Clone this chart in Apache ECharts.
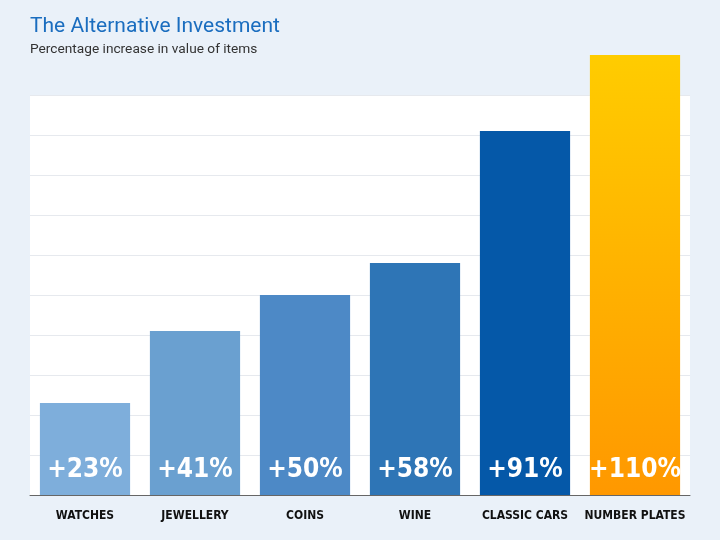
<!DOCTYPE html>
<html><head><meta charset="utf-8">
<script src="https://cdn.jsdelivr.net/npm/echarts@6/dist/echarts.min.js"></script>
<style>html,body{margin:0;padding:0;background:#eaf1f9}#c{width:720px;height:540px}</style>
</head><body><div id="c"></div>
<script>
const categories = ['WATCHES','JEWELLERY','COINS','WINE','CLASSIC CARS','NUMBER PLATES'];
const values = [23, 41, 50, 58, 91, 110];
const barColors = ['#7eaedb','#6aa0d0','#4d89c6','#2e75b6','#0558a8', null];

const condensed = '"DejaVu Sans Condensed", "Liberation Sans Narrow", sans-serif';
const chart = echarts.init(document.getElementById('c'));
const data = values.map((v,i)=>({
  value: v,
  itemStyle: { color: barColors[i] || new echarts.graphic.LinearGradient(0,0,0,1,[{offset:0,color:'#ffcc00'},{offset:1,color:'#ff9800'}]) }
}));
const areaColors = Array(10).fill('#ffffff').concat(['rgba(0,0,0,0)']);
const lineColors = Array(11).fill('#e6e9ee').concat(['rgba(0,0,0,0)']);
chart.setOption({
  backgroundColor: '#eaf1f9',
  animation: false,
  title: [
    { text: 'The Alternative Investment', left: 25, top: 11,
      textStyle: { fontFamily: 'Roboto', fontWeight: 'normal', fontSize: 21, color: '#1a6dbf' } },
    { text: 'Percentage increase in value of items', left: 25, top: 38,
      textStyle: { fontFamily: 'Roboto', fontWeight: 'normal', fontSize: 13.7, color: '#333333' } }
  ],
  grid: { left: 30, right: 30, top: 55, bottom: 45 },
  xAxis: {
    type: 'category', data: categories,
    axisLine: { show: true, lineStyle: { color: '#666', width: 1 } },
    axisTick: { show: false },
    axisLabel: { interval: 0, margin: 15, color: '#111', fontFamily: condensed, fontWeight: 'bold', fontSize: 12 }
  },
  yAxis: {
    type: 'value', min: 0, max: 110, interval: 10,
    axisLabel: { show: false }, axisLine: { show: false }, axisTick: { show: false },
    splitLine: { show: true, lineStyle: { color: lineColors, width: 1 } },
    splitArea: { show: true, areaStyle: { color: areaColors } }
  },
  series: [{
    type: 'bar', data: data, barCategoryGap: '18%',
    label: {
      show: true, position: 'insideBottom', distance: 12,
      formatter: p => '+' + p.value + '%',
      color: '#fff', fontFamily: condensed, fontWeight: 'bold', fontSize: 26
    }
  }]
});
</script></body></html>
